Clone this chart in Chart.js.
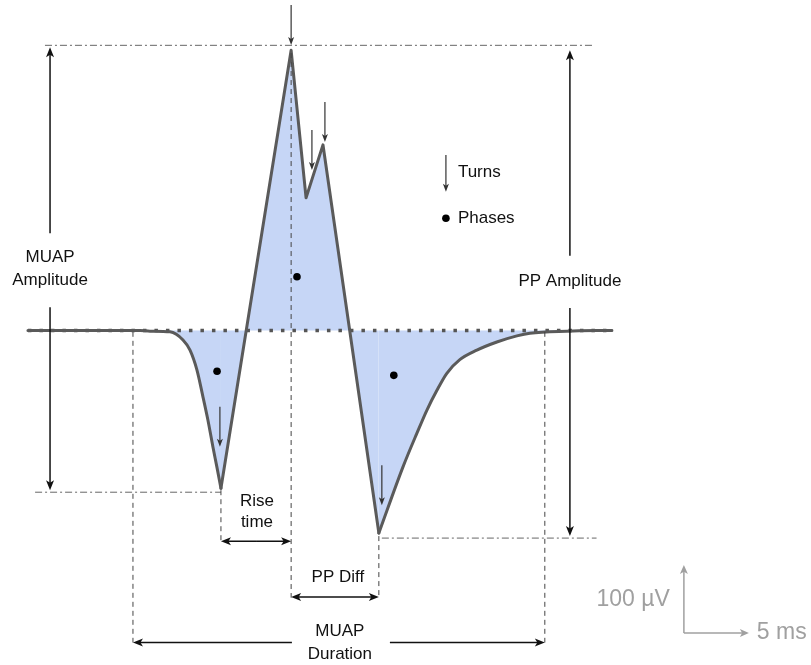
<!DOCTYPE html>
<html>
<head>
<meta charset="utf-8">
<script src="https://cdn.jsdelivr.net/npm/chart.js@4.4.1/dist/chart.umd.min.js"></script>
<style>
  html, body { margin: 0; padding: 0; background: #fff; }
  #wrap { width: 811px; height: 665px; }
</style>
</head>
<body>
<div id="wrap"><canvas id="muapChart" width="811" height="665"></canvas></div>
<script>
// MUAP waveform: time in ms (0 = main peak), amplitude in µV (0 = baseline)
// slow onset down to the first trough
const onsetMs = [-20.25, -11.63, -10.86, -9.32, -8.32, -7.78, -7.25, -6.78, -6.4, -6.02, -5.71, -5.4];
const onsetUv = [0, 0, -1, -2, -14, -29, -58, -98, -132, -171, -201, -232];
// fast spike: trough, peak, notch, second peak, trough
const spikeMs = [-5.4, 0, 1.15, 2.45, 6.75];
const spikeUv = [-232, 412, 195, 273, -298];
// slow return to baseline
const tailMs = [6.75, 8.6, 9.68, 10.45, 11.22, 11.98, 12.98, 14.29, 15.83, 17.37, 18.37, 21.2, 24.68];
const tailUv = [-298, -201, -151, -117, -88, -63, -43, -29, -17, -8, -4, -1, 0];

// phase dots
const phaseMs = [-5.7, 0.45, 7.9];
const phaseUv = [-60, 79, -66];

// turn arrows (tip position)
const turnMs = [0, 1.6, 2.6, -5.48, 6.98];
const turnUv = [420, 236, 277, -171, -257];

// measured intervals (ms)
const durationMs = [-12.17, 19.52];
const riseMs = [-5.4, 0];
const ppDiffMs = [0, 6.75];
const baselineMs = [-20.25, 24.68];

// calibration bar
const scaleBarMs = 5;
const scaleBarUv = 100;

const FONT = '"Liberation Sans", Arial, sans-serif';

const annotate = {
    id: "annotate",
    afterDatasetsDraw(chart) {
        const { ctx, scales } = chart;
        const X = v => scales.x.getPixelForValue(v);
        const Y = v => scales.y.getPixelForValue(v);

        function line(x1, y1, x2, y2, color, width, dash) {
            ctx.save();
            ctx.strokeStyle = color;
            ctx.lineWidth = width;
            ctx.setLineDash(dash || []);
            ctx.beginPath();
            ctx.moveTo(x1, y1);
            ctx.lineTo(x2, y2);
            ctx.stroke();
            ctx.restore();
        }
        function head(x1, y1, x2, y2, color, len, half) {
            const a = Math.atan2(y2 - y1, x2 - x1);
            ctx.save();
            ctx.fillStyle = color;
            ctx.translate(x2, y2);
            ctx.rotate(a);
            ctx.beginPath();
            ctx.moveTo(0, 0);
            ctx.lineTo(-len, -half);
            ctx.lineTo(-len * 0.75, 0);
            ctx.lineTo(-len, half);
            ctx.closePath();
            ctx.fill();
            ctx.restore();
        }
        function arrow(x1, y1, x2, y2, color, width, len, half) {
            const a = Math.atan2(y2 - y1, x2 - x1);
            line(x1, y1, x2 - Math.cos(a) * len * 0.6, y2 - Math.sin(a) * len * 0.6, color, width);
            head(x1, y1, x2, y2, color, len, half);
        }
        function text(str, x, y, align, size, color) {
            ctx.save();
            ctx.font = size + "px " + FONT;
            ctx.fillStyle = color || "#111";
            ctx.textAlign = align;
            ctx.textBaseline = "middle";
            ctx.fillText(str, x, y);
            ctx.restore();
        }

        const dashDot = [7, 3, 2, 3];
        const dashed = [5, 4];
        const thin = "#666";
        const dark = "#444";
        const black = "#111";

        const peakUv = Math.max(...spikeUv);
        const trough1 = spikeUv[0];
        const trough2 = spikeUv[spikeUv.length - 1];

        // dash-dot amplitude levels
        line(X(-18.94), Y(peakUv) - 5, X(23.37), Y(peakUv) - 5, thin, 1, dashDot);
        line(X(-19.7), Y(trough1) + 4, X(riseMs[0]), Y(trough1) + 4, thin, 1, dashDot);
        line(X(6.98), Y(trough2) + 5, X(23.5), Y(trough2) + 5, thin, 1, dashDot);

        // dashed verticals
        line(X(durationMs[0]), Y(-2), X(durationMs[0]), Y(-459), dark, 1, dashed);
        line(X(durationMs[1]), Y(-2), X(durationMs[1]), Y(-459), dark, 1, dashed);
        line(X(0), Y(peakUv - 4), X(0), Y(-393), dark, 1, dashed);
        line(X(riseMs[0]), Y(trough1) + 2, X(riseMs[0]), Y(-310), dark, 1, dashed);
        line(X(ppDiffMs[1]), Y(trough2) + 3, X(ppDiffMs[1]), Y(-393), dark, 1, dashed);

        // MUAP amplitude arrow
        const ax = X(-18.55);
        arrow(ax, Y(143), ax, Y(peakUv) - 3, black, 1.5, 10, 4);
        arrow(ax, Y(34), ax, Y(trough1) + 2, black, 1.5, 10, 4);
        text("MUAP", ax, Y(108), "center", 17);
        text("Amplitude", ax, Y(74), "center", 17);

        // PP amplitude arrow
        const px = X(21.45);
        arrow(px, Y(110), px, Y(peakUv), black, 1.5, 10, 4);
        arrow(px, Y(33), px, Y(trough2) + 3, black, 1.5, 10, 4);
        text("PP Amplitude", px, Y(73), "center", 17);

        // horizontal interval arrows
        const ry = Y(-310);
        arrow((X(riseMs[0]) + X(riseMs[1])) / 2, ry, X(riseMs[0]), ry, black, 1.5, 10, 4);
        arrow((X(riseMs[0]) + X(riseMs[1])) / 2, ry, X(riseMs[1]), ry, black, 1.5, 10, 4);
        text("Rise", X(-2.63), Y(-252), "center", 17);
        text("time", X(-2.63), Y(-282), "center", 17);

        const py = Y(-392);
        arrow((X(ppDiffMs[0]) + X(ppDiffMs[1])) / 2, py, X(ppDiffMs[0]), py, black, 1.5, 10, 4);
        arrow((X(ppDiffMs[0]) + X(ppDiffMs[1])) / 2, py, X(ppDiffMs[1]), py, black, 1.5, 10, 4);
        text("PP Diff", X(3.6), Y(-363), "center", 17);

        const dy = Y(-459);
        arrow(X(0.06), dy, X(durationMs[0]), dy, black, 1.5, 10, 4);
        arrow(X(7.6), dy, X(durationMs[1]), dy, black, 1.5, 10, 4);
        text("MUAP", X(3.75), Y(-443), "center", 17);
        text("Duration", X(3.75), Y(-477), "center", 17);

        // turn arrows
        turnMs.forEach((t, i) => {
            const tx = X(t), ty = Y(turnUv[i]);
            arrow(tx, ty - 40, tx, ty, "#333", 1.2, 8, 3);
        });

        // legend
        arrow(X(11.91), Y(258), X(11.91), Y(204), "#333", 1.2, 8, 3);
        text("Turns", X(12.83), Y(232), "left", 17);
        ctx.save();
        ctx.fillStyle = "#000";
        ctx.beginPath();
        ctx.arc(X(11.91), Y(165), 3.8, 0, Math.PI * 2);
        ctx.fill();
        ctx.restore();
        text("Phases", X(12.83), Y(165), "left", 17);

        // calibration bar
        const gray = "#a0a0a0";
        const ox = X(30.22), oy = Y(-445);
        arrow(ox, oy, ox, Y(-445 + scaleBarUv), gray, 1.5, 9, 4);
        arrow(ox, oy, X(30.22 + scaleBarMs), oy, gray, 1.5, 9, 4);
        text("100 µV", X(29.14), Y(-396), "right", 23, gray);
        text("5 ms", X(35.83), oy, "left", 23, gray);
    }
};

const toPoints = (ms, uv) => ms.map((t, i) => ({ x: t, y: uv[i] }));
const fillBlue = "rgb(198, 214, 246)";
const traceGray = "#5a5a5a";

const waveStyle = {
    borderColor: traceGray,
    borderWidth: 3,
    borderJoinStyle: "round",
    borderCapStyle: "round",
    backgroundColor: fillBlue,
    fill: "origin",
    pointRadius: 0
};

new Chart(document.getElementById("muapChart"), {
    type: "line",
    data: {
        datasets: [
            {
                label: "Phases",
                data: toPoints(phaseMs, phaseUv),
                showLine: false,
                pointRadius: 3.8,
                pointBackgroundColor: "#000",
                pointBorderWidth: 0,
                order: 0
            },
            Object.assign({ label: "Onset", data: toPoints(onsetMs, onsetUv), cubicInterpolationMode: "monotone", order: 1 }, waveStyle),
            Object.assign({ label: "Spike", data: toPoints(spikeMs, spikeUv), tension: 0, order: 1 }, waveStyle),
            Object.assign({ label: "Tail", data: toPoints(tailMs, tailUv), cubicInterpolationMode: "monotone", order: 1 }, waveStyle),
            {
                label: "Baseline",
                data: baselineMs.map(t => ({ x: t, y: 0 })),
                borderColor: "#555",
                borderWidth: 3.5,
                borderDash: [3.5, 8],
                pointRadius: 0,
                fill: false,
                order: 2
            }
        ]
    },
    options: {
        responsive: false,
        animation: false,
        layout: { padding: 0, autoPadding: false },
        plugins: {
            legend: { display: false },
            tooltip: { enabled: false },
            filler: { drawTime: "beforeDatasetsDraw" }
        },
        scales: {
            x: { type: "linear", min: -22.4, max: 40, display: false },
            y: { type: "linear", min: -492, max: 486, display: false }
        }
    },
    plugins: [annotate]
});
</script>
</body>
</html>
